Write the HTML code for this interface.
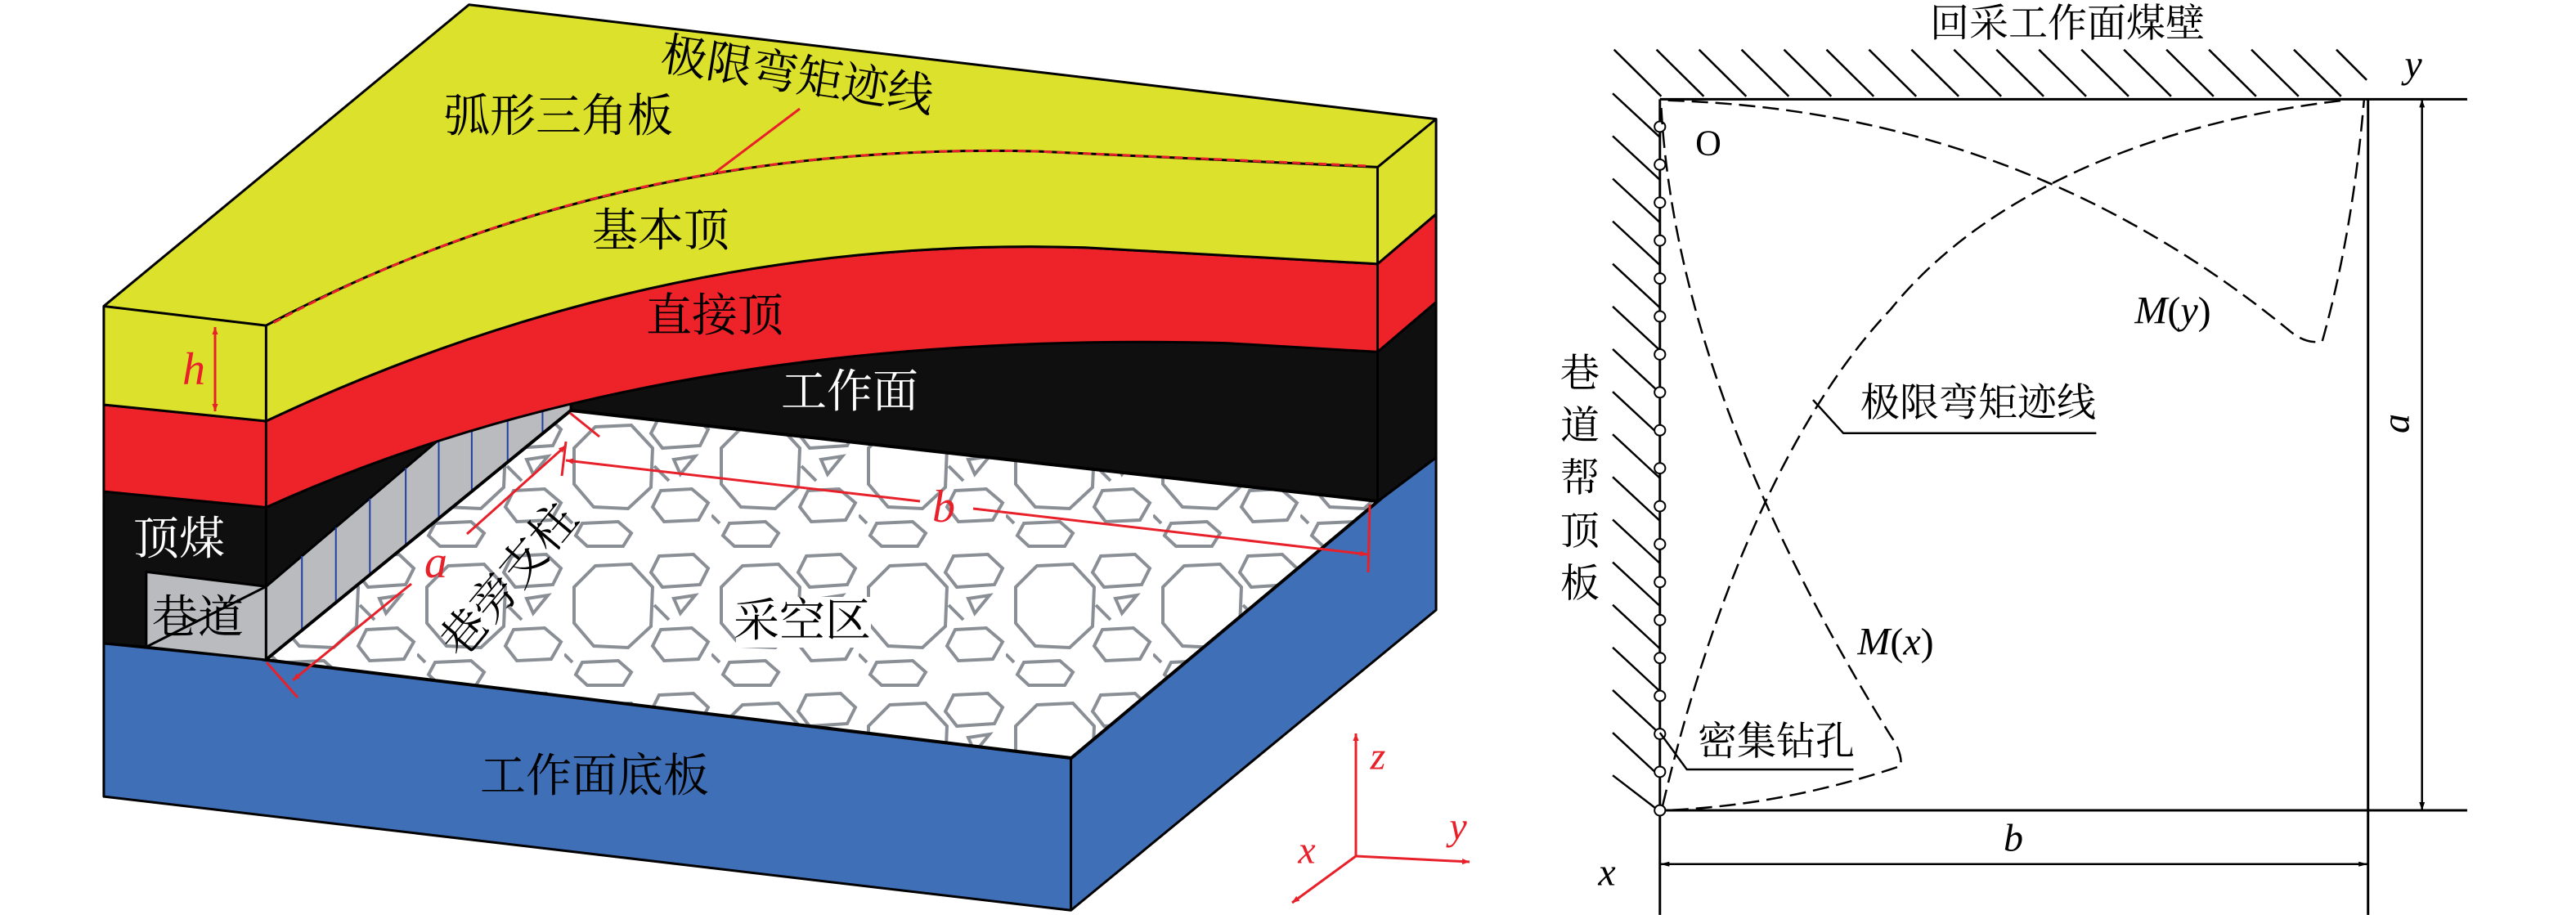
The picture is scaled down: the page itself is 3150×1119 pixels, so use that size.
<!DOCTYPE html>
<html><head><meta charset="utf-8"><style>
html,body{margin:0;padding:0;background:#fff}
svg{display:block}
text{font-family:"Liberation Serif","Noto Serif CJK SC",serif}
</style></head><body>
<svg width="3150" height="1119" viewBox="0 0 3150 1119" xmlns="http://www.w3.org/2000/svg">
<defs>
<pattern id="oct" x="330" y="500" width="180" height="170" patternUnits="userSpaceOnUse">
<g fill="none" stroke="#8a8f96" stroke-width="4">
<polygon points="38,22 82,20 108,48 106,96 78,122 36,120 12,92 12,48"/>
<polygon points="116,10 158,8 176,25 166,45 120,48 106,30"/>
<polygon points="118,100 156,98 176,115 164,136 122,138 108,120"/>
<polygon points="134,62 160,58 142,80"/>
<polygon points="22,140 66,138 82,152 72,168 28,168 14,155"/>
<polyline points="0,130 10,140"/>
<polyline points="110,70 128,88"/>
</g>
</pattern>
<marker id="ar" viewBox="0 0 10 10" refX="10" refY="5" markerWidth="9" markerHeight="9" orient="auto-start-reverse" markerUnits="userSpaceOnUse"><path d="M0,1 L10,5 L0,9 Z" fill="#e8202a"/></marker>
<marker id="ak" viewBox="0 0 10 10" refX="10" refY="5" markerWidth="22" markerHeight="14" orient="auto-start-reverse" markerUnits="userSpaceOnUse"><path d="M0,2 L10,5 L0,8 Z" fill="#000"/></marker>
</defs>

<g transform="scale(1.1538,0.7173)" stroke="#000" stroke-width="3" stroke-linejoin="round">
<polygon points="110,1097 282,1125 1135,1293 1460,855 1522,780 1522,1040 1135,1552 110,1358" fill="#3f6fb6" vector-effect="non-scaling-stroke"/>
<line x1="1135" y1="1293" x2="1135" y2="1552" vector-effect="non-scaling-stroke"/>
<path d="M110,838 L282,865 Q700,560 1300,585 L1460,600 L1522,515 L1522,780 L1460,855 L605,700 L282,1125 L282,1000 L155,975 L155,1103 L110,1097 Z" fill="#0f0f0f" vector-effect="non-scaling-stroke"/>
<polygon points="155,975 282,1000 282,1125 155,1103" fill="#b9bbbf" vector-effect="non-scaling-stroke"/>
<line x1="155" y1="1103" x2="282" y2="1000" vector-effect="non-scaling-stroke"/>
<path d="M282,1000 L505,695 Q555,665 605,655 L605,700 L282,1125 Z" fill="#b9bbbf" vector-effect="non-scaling-stroke"/>
<g stroke="#2340a0" stroke-width="2">
<line x1="320" y1="948" x2="320" y2="1076" vector-effect="non-scaling-stroke"/>
<line x1="356" y1="899" x2="356" y2="1028" vector-effect="non-scaling-stroke"/>
<line x1="392" y1="850" x2="392" y2="981" vector-effect="non-scaling-stroke"/>
<line x1="430" y1="798" x2="430" y2="931" vector-effect="non-scaling-stroke"/>
<line x1="465" y1="750" x2="465" y2="885" vector-effect="non-scaling-stroke"/>
<line x1="500" y1="702" x2="500" y2="838" vector-effect="non-scaling-stroke"/>
<line x1="538" y1="678" x2="538" y2="788" vector-effect="non-scaling-stroke"/>
<line x1="575" y1="662" x2="575" y2="740" vector-effect="non-scaling-stroke"/>
</g>
<line x1="282" y1="865" x2="282" y2="1000" vector-effect="non-scaling-stroke"/>
<line x1="1460" y1="600" x2="1460" y2="855" vector-effect="non-scaling-stroke"/>
<path d="M110,690 L282,718 Q700,400 1150,422 L1460,450 L1522,365 L1522,515 L1460,600 L1300,585 Q700,560 282,865 L110,838 Z" fill="#ee2229" vector-effect="non-scaling-stroke"/>
<line x1="282" y1="718" x2="282" y2="865" vector-effect="non-scaling-stroke"/>
<line x1="1460" y1="450" x2="1460" y2="600" vector-effect="non-scaling-stroke"/>
<path d="M110,522 L497,8 L1522,203 L1522,365 L1460,450 L1150,422 Q700,400 282,718 L110,690 Z" fill="#dce12c" vector-effect="non-scaling-stroke"/>
<path d="M110,522 L282,555 Q650,240 1100,258 L1460,285 L1522,203" fill="none" vector-effect="non-scaling-stroke"/>
<line x1="282" y1="555" x2="282" y2="718" vector-effect="non-scaling-stroke"/>
<line x1="1460" y1="285" x2="1460" y2="450" vector-effect="non-scaling-stroke"/>
<path d="M290,550 Q650,240 1100,258 L1450,283" fill="none" stroke="#e8202a" stroke-width="3" stroke-dasharray="10,6" vector-effect="non-scaling-stroke"/>
</g>

<polygon points="325,807 698,502 1685,613 1310,927" fill="#fff"/>
<polygon points="325,807 698,502 1685,613 1310,927" fill="url(#oct)" stroke="#000" stroke-width="4"/>
<rect x="900" y="730" width="165" height="62" fill="#fff"/>

<g stroke="#e8202a" stroke-width="3" fill="none">
<line x1="263" y1="400" x2="263" y2="503" marker-start="url(#ar)" marker-end="url(#ar)"/>
<line x1="503" y1="714" x2="358" y2="832" marker-end="url(#ar)"/>
<line x1="571" y1="653" x2="692" y2="545" marker-end="url(#ar)"/>
<line x1="326" y1="810" x2="364" y2="853"/>
<line x1="697" y1="505" x2="733" y2="534"/>
<line x1="692" y1="540" x2="687" y2="582"/>
<line x1="1125" y1="613" x2="692" y2="563" marker-end="url(#ar)"/>
<line x1="1190" y1="622" x2="1672" y2="678" marker-end="url(#ar)"/>
<line x1="1675" y1="617" x2="1673" y2="700"/>
<line x1="978" y1="133" x2="873" y2="212"/>
<line x1="1658" y1="1047" x2="1658" y2="897" marker-end="url(#ar)"/>
<line x1="1658" y1="1047" x2="1797" y2="1054" marker-end="url(#ar)"/>
<line x1="1658" y1="1047" x2="1580" y2="1104" marker-end="url(#ar)"/>
</g>

<g font-size="56" text-anchor="middle" dominant-baseline="central">
<text x="975" y="93" transform="rotate(9 975 93)">极限弯矩迹线</text>
<text x="683" y="143">弧形三角板</text>
<text x="808" y="283">基本顶</text>
<text x="874" y="387">直接顶</text>
<text x="1039" y="480" fill="#fff">工作面</text>
<text x="219" y="660" fill="#fff">顶煤</text>
<text x="242" y="756">巷道</text>
<text x="623" y="710" transform="rotate(-50 623 710)">巷旁支柱</text>
<text x="981" y="760">采空区</text>
<text x="727" y="950">工作面底板</text>
<g font-style="italic" fill="#e8202a">
<text x="237" y="452">h</text>
<text x="533" y="688">a</text>
<text x="1154" y="620">b</text>
<text x="1685" y="925" font-size="48">z</text>
<text x="1783" y="1011" font-size="48">y</text>
<text x="1598" y="1040" font-size="48">x</text>
</g>
</g>

<g transform="translate(1850,0) scale(0.8247,0.714)" stroke="#000" fill="none">
<g stroke-width="3">
<line x1="218" y1="170" x2="218" y2="1567" vector-effect="non-scaling-stroke"/>
<line x1="218" y1="170" x2="1415" y2="170" vector-effect="non-scaling-stroke"/>
<line x1="218" y1="1388" x2="1415" y2="1388" vector-effect="non-scaling-stroke"/>
<line x1="1268" y1="170" x2="1268" y2="1567" vector-effect="non-scaling-stroke"/>
</g>
<g stroke-width="2.5">
<path vector-effect="non-scaling-stroke" d="M150,85 l70,80 M213,85 l70,80 M276,85 l70,80 M339,85 l70,80 M402,85 l70,80 M465,85 l70,80 M528,85 l70,80 M591,85 l70,80 M654,85 l70,80 M717,85 l70,80 M780,85 l70,80 M843,85 l70,80 M906,85 l70,80 M969,85 l70,80 M1032,85 l70,80 M1095,85 l70,80 M1158,85 l70,80 M1221,85 l45,52"/>
<path vector-effect="non-scaling-stroke" d="M148,160 l70,75 M148,233 l70,75 M148,306 l70,75 M148,379 l70,75 M148,452 l70,75 M148,525 l70,75 M148,598 l70,75 M148,671 l70,75 M148,744 l70,75 M148,817 l70,75 M148,890 l70,75 M148,963 l70,75 M148,1036 l70,75 M148,1109 l70,75 M148,1182 l70,75 M148,1255 l70,75 M148,1328 l70,62"/>
</g>
<g stroke-width="2" fill="#fff">
<ellipse cx="218" cy="217" rx="8" ry="9" vector-effect="non-scaling-stroke"/>
<ellipse cx="218" cy="282" rx="8" ry="9" vector-effect="non-scaling-stroke"/>
<ellipse cx="218" cy="347" rx="8" ry="9" vector-effect="non-scaling-stroke"/>
<ellipse cx="218" cy="412" rx="8" ry="9" vector-effect="non-scaling-stroke"/>
<ellipse cx="218" cy="477" rx="8" ry="9" vector-effect="non-scaling-stroke"/>
<ellipse cx="218" cy="542" rx="8" ry="9" vector-effect="non-scaling-stroke"/>
<ellipse cx="218" cy="607" rx="8" ry="9" vector-effect="non-scaling-stroke"/>
<ellipse cx="218" cy="672" rx="8" ry="9" vector-effect="non-scaling-stroke"/>
<ellipse cx="218" cy="737" rx="8" ry="9" vector-effect="non-scaling-stroke"/>
<ellipse cx="218" cy="802" rx="8" ry="9" vector-effect="non-scaling-stroke"/>
<ellipse cx="218" cy="867" rx="8" ry="9" vector-effect="non-scaling-stroke"/>
<ellipse cx="218" cy="932" rx="8" ry="9" vector-effect="non-scaling-stroke"/>
<ellipse cx="218" cy="997" rx="8" ry="9" vector-effect="non-scaling-stroke"/>
<ellipse cx="218" cy="1062" rx="8" ry="9" vector-effect="non-scaling-stroke"/>
<ellipse cx="218" cy="1127" rx="8" ry="9" vector-effect="non-scaling-stroke"/>
<ellipse cx="218" cy="1192" rx="8" ry="9" vector-effect="non-scaling-stroke"/>
<ellipse cx="218" cy="1257" rx="8" ry="9" vector-effect="non-scaling-stroke"/>
<ellipse cx="218" cy="1322" rx="8" ry="9" vector-effect="non-scaling-stroke"/>
<ellipse cx="218" cy="1388" rx="8" ry="9" vector-effect="non-scaling-stroke"/>
</g>
<g stroke-width="2.5" stroke-dasharray="20,9">
<path vector-effect="non-scaling-stroke" d="M230,172 C600,185 900,330 1150,565 Q1175,590 1200,585 Q1245,400 1262,172"/>
<path vector-effect="non-scaling-stroke" d="M222,1380 C300,1000 420,700 560,530 C700,330 950,210 1230,172"/>
<path vector-effect="non-scaling-stroke" d="M220,185 C240,600 420,1000 560,1260 Q578,1290 575,1312 Q400,1380 225,1388"/>
</g>
<g stroke-width="2.5">
<path vector-effect="non-scaling-stroke" d="M445,685 L490,742 L865,742"/>
<path vector-effect="non-scaling-stroke" d="M218,1255 L258,1318 L505,1318"/>
<line x1="1348" y1="170" x2="1348" y2="1388" marker-start="url(#ak)" marker-end="url(#ak)" vector-effect="non-scaling-stroke"/>
<line x1="218" y1="1480" x2="1268" y2="1480" marker-start="url(#ak)" marker-end="url(#ak)" vector-effect="non-scaling-stroke"/>
</g>
</g>

<g font-size="48" text-anchor="middle" dominant-baseline="central">
<text x="2528" y="29">回采工作面煤壁</text>
<text x="2089" y="175" font-family="Liberation Sans, sans-serif" font-size="44">O</text>
<text x="2657" y="380" font-style="italic">M<tspan font-style="normal">(</tspan>y<tspan font-style="normal">)</tspan></text>
<text x="2419" y="493">极限弯矩迹线</text>
<text x="2318" y="785" font-style="italic">M<tspan font-style="normal">(</tspan>x<tspan font-style="normal">)</tspan></text>
<text x="2172" y="907">密集钻孔</text>
<text x="2930" y="518" font-style="italic" transform="rotate(-90 2930 518)">a</text>
<text x="2462" y="1025" font-style="italic">b</text>
<text x="1965" y="1067" font-style="italic">x</text>
<text x="2951" y="79" font-style="italic">y</text>
<text x="1932" y="457">巷</text>
<text x="1932" y="521">道</text>
<text x="1932" y="585">帮</text>
<text x="1932" y="650">顶</text>
<text x="1932" y="714">板</text>
</g>
</svg>
</body></html>
